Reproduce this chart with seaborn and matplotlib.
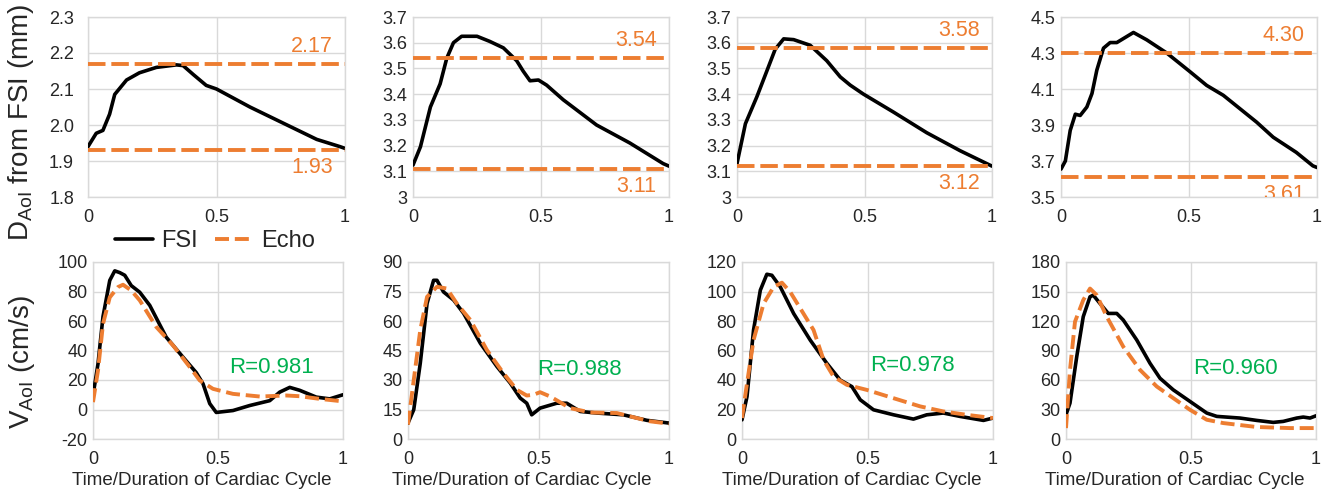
import matplotlib
matplotlib.use("Agg")
import matplotlib.pyplot as plt
import seaborn as sns
import pandas as pd

# ---------------- data ----------------
# Top row: aortic isthmus diameter from FSI and Echo (min / max)
t_d1 = [0, 0.032, 0.058, 0.084, 0.104, 0.15, 0.2, 0.266, 0.344, 0.37, 0.41, 0.46, 0.5, 0.63, 0.76, 0.89, 0.98, 1.0]
d1_fsi = [1.94, 1.977, 1.985, 2.03, 2.085, 2.125, 2.145, 2.16, 2.167, 2.165, 2.14, 2.11, 2.10, 2.05, 2.005, 1.96, 1.94, 1.935]
echo_d1 = [2.17, 1.93]

t_d2 = [0, 0.029, 0.068, 0.106, 0.132, 0.158, 0.19, 0.25, 0.30, 0.353, 0.405, 0.43, 0.457, 0.49, 0.522, 0.587, 0.717, 0.847, 0.977, 1.0]
d2_fsi = [3.124, 3.195, 3.35, 3.44, 3.54, 3.60, 3.625, 3.625, 3.605, 3.58, 3.53, 3.49, 3.452, 3.455, 3.435, 3.378, 3.28, 3.21, 3.13, 3.12]
echo_d2 = [3.54, 3.11]

t_d3 = [0, 0.033, 0.078, 0.117, 0.15, 0.183, 0.222, 0.287, 0.352, 0.405, 0.444, 0.496, 0.614, 0.744, 0.875, 1.0]
d3_fsi = [3.13, 3.285, 3.39, 3.49, 3.575, 3.615, 3.612, 3.59, 3.53, 3.467, 3.435, 3.40, 3.33, 3.25, 3.18, 3.12]
echo_d3 = [3.58, 3.12]

t_d4 = [0, 0.017, 0.036, 0.056, 0.075, 0.101, 0.121, 0.14, 0.166, 0.192, 0.218, 0.283, 0.335, 0.413, 0.504, 0.569, 0.634, 0.764, 0.829, 0.919, 0.984, 1.0]
d4_fsi = [3.655, 3.70, 3.87, 3.96, 3.953, 4.0, 4.075, 4.205, 4.327, 4.358, 4.358, 4.414, 4.373, 4.30, 4.196, 4.12, 4.065, 3.916, 3.832, 3.748, 3.673, 3.664]
echo_d4 = [4.30, 3.61]

# Bottom row: aortic isthmus velocity, FSI vs Echo
t_v1_fsi = [0, 0.02, 0.04, 0.067, 0.087, 0.107, 0.127, 0.153, 0.187, 0.227, 0.293, 0.36, 0.413, 0.44, 0.467, 0.493, 0.56, 0.627, 0.707, 0.747, 0.787, 0.827, 0.893, 0.947, 1.0]
v1_fsi = [9.5, 31, 63, 87.5, 94, 92.8, 91, 84, 79.5, 70.6, 49, 35.5, 25, 17.5, 4, -2, -0.7, 2.7, 6, 11.8, 15, 13, 8.4, 7.2, 10]
t_v1_echo = [0, 0.02, 0.04, 0.067, 0.1, 0.12, 0.153, 0.187, 0.253, 0.32, 0.387, 0.427, 0.48, 0.56, 0.667, 0.773, 0.827, 0.907, 1.0]
v1_echo = [5, 26.5, 58, 76, 83, 84.6, 80.7, 74, 56, 43.5, 28.8, 19.7, 14, 10.6, 8.8, 9.5, 9, 7.2, 5.5]

t_v2_fsi = [0, 0.022, 0.047, 0.073, 0.098, 0.111, 0.136, 0.175, 0.213, 0.277, 0.341, 0.392, 0.43, 0.455, 0.474, 0.506, 0.57, 0.608, 0.66, 0.723, 0.825, 0.915, 1.0]
v2_fsi = [8.1, 14.9, 38.5, 68.9, 80.7, 80.7, 74.8, 70.6, 63.9, 48.7, 36.8, 28.4, 20.8, 18.2, 12.3, 15.7, 18.2, 18.2, 14, 13.2, 12.3, 9.5, 8.1]
t_v2_echo = [0, 0.022, 0.047, 0.073, 0.111, 0.149, 0.187, 0.239, 0.302, 0.366, 0.417, 0.455, 0.481, 0.506, 0.545, 0.621, 0.698, 0.8, 0.851, 0.927, 1.0]
v2_echo = [7.3, 30, 55.4, 72.3, 77.4, 76.5, 68.9, 60.5, 45.3, 33.4, 25, 22.1, 22.5, 23.8, 21.6, 15.7, 13.5, 13.2, 11.5, 9, 7.8]

t_v3_fsi = [0, 0.02, 0.046, 0.073, 0.099, 0.119, 0.153, 0.206, 0.272, 0.338, 0.391, 0.438, 0.471, 0.524, 0.604, 0.683, 0.736, 0.802, 0.869, 0.962, 1.0]
v3_fsi = [13, 28.8, 73.9, 100.9, 111.7, 111, 103, 85, 67, 51.3, 40, 35.5, 26.6, 19.8, 16.4, 13.5, 16.4, 17.6, 15.3, 12.6, 14.2]
t_v3_echo = [0, 0.02, 0.046, 0.086, 0.126, 0.159, 0.192, 0.245, 0.285, 0.325, 0.365, 0.418, 0.497, 0.603, 0.71, 0.802, 0.895, 1.0]
v3_echo = [14.2, 37.8, 67.1, 91.8, 103.1, 106, 99.7, 85, 73.9, 53.6, 42.3, 36.7, 33.3, 27.7, 22.1, 18.7, 16.4, 14.2]

t_v4_fsi = [0, 0.016, 0.043, 0.069, 0.096, 0.109, 0.136, 0.169, 0.203, 0.229, 0.283, 0.336, 0.376, 0.429, 0.496, 0.563, 0.603, 0.696, 0.763, 0.829, 0.869, 0.923, 0.949, 0.976, 1.0]
v4_fsi = [24.7, 36.5, 83.8, 124.4, 144.6, 146.3, 137.8, 127.7, 127.7, 121, 100.7, 77, 61.8, 50, 38.2, 26.4, 23, 21.3, 18.9, 16.9, 17.9, 21.3, 22.3, 21.3, 23.6]
t_v4_echo = [0, 0.016, 0.036, 0.069, 0.096, 0.123, 0.163, 0.229, 0.296, 0.363, 0.429, 0.496, 0.563, 0.629, 0.763, 0.896, 1.0]
v4_echo = [11.1, 70.3, 119.3, 141.3, 153, 146.3, 124.4, 93.9, 70.3, 53.4, 41.6, 29.7, 19.6, 16.2, 12.2, 11.1, 11.1]

r_values = ["R=0.981", "R=0.988", "R=0.978", "R=0.960"]

# axis ticks / labels
x_ticks = [0, 0.5, 1]
x_ticklabels = ["0", "0.5", "1"]
top_yticks = [
    [1.8, 1.9, 2.0, 2.1, 2.2, 2.3],
    [3.0, 3.1, 3.2, 3.3, 3.4, 3.5, 3.6, 3.7],
    [3.0, 3.1, 3.2, 3.3, 3.4, 3.5, 3.6, 3.7],
    [3.5, 3.7, 3.9, 4.1, 4.3, 4.5],
]
top_yticklabels = [
    ["1.8", "1.9", "2.0", "2.1", "2.2", "2.3"],
    ["3", "3.1", "3.2", "3.3", "3.4", "3.5", "3.6", "3.7"],
    ["3", "3.1", "3.2", "3.3", "3.4", "3.5", "3.6", "3.7"],
    ["3.5", "3.7", "3.9", "4.1", "4.3", "4.5"],
]
bot_yticks = [
    [-20, 0, 20, 40, 60, 80, 100],
    [0, 15, 30, 45, 60, 75, 90],
    [0, 20, 40, 60, 80, 100, 120],
    [0, 30, 60, 90, 120, 150, 180],
]

top_t = [t_d1, t_d2, t_d3, t_d4]
top_fsi = [d1_fsi, d2_fsi, d3_fsi, d4_fsi]
top_echo = [echo_d1, echo_d2, echo_d3, echo_d4]
bot_tf = [t_v1_fsi, t_v2_fsi, t_v3_fsi, t_v4_fsi]
bot_f = [v1_fsi, v2_fsi, v3_fsi, v4_fsi]
bot_te = [t_v1_echo, t_v2_echo, t_v3_echo, t_v4_echo]
bot_e = [v1_echo, v2_echo, v3_echo, v4_echo]

# ---------------- style ----------------
sns.set_theme(style="white")
plt.rcParams["font.family"] = ["Liberation Sans", "DejaVu Sans"]
plt.rcParams["mathtext.fontset"] = "custom"
plt.rcParams["mathtext.rm"] = "Liberation Sans"
plt.rcParams["axes.unicode_minus"] = False

ORANGE = "#ED7D31"
GREEN = "#00B050"
GRID = "#D9D9D9"
TXT = "#262626"

W, H = 1329, 495
fig = plt.figure(figsize=(W / 100, H / 100), dpi=100)

top_x = [(88, 345), (413, 669), (737, 992), (1061, 1317)]
top_y = (17, 197)
bot_x = [(93, 343), (408, 669), (742, 993), (1066, 1316)]
bot_y = (262, 439)


def make_ax(xr, yr):
    l, r = xr
    t, b = yr
    return fig.add_axes([l / W, 1 - b / H, (r - l) / W, (b - t) / H])


def style_ax(ax, yticks, yticklabels=None, ypad=4):
    ax.set_xlim(0, 1)
    ax.set_ylim(yticks[0], yticks[-1])
    ax.set_xticks(x_ticks)
    ax.set_xticklabels(x_ticklabels)
    ax.set_yticks(yticks)
    if yticklabels is not None:
        ax.set_yticklabels(yticklabels)
    ax.grid(True, color=GRID, linewidth=1)
    for s in ax.spines.values():
        s.set_color(GRID)
        s.set_linewidth(1)
    ax.tick_params(axis="both", length=0, labelsize=13, labelcolor=TXT)
    ax.tick_params(axis="y", pad=ypad)
    ax.tick_params(axis="x", pad=9)
    ax.set_xlabel("")
    ax.set_ylabel("")


# top row
for i in range(4):
    ax = make_ax(top_x[i], top_y)
    df = pd.DataFrame({"t": top_t[i], "d": top_fsi[i]})
    sns.lineplot(data=df, x="t", y="d", ax=ax, color="black", linewidth=2.6, zorder=3)
    hi, lo = top_echo[i]
    for val in (hi, lo):
        dfe = pd.DataFrame({"t": [0, 1], "d": [val, val]})
        sns.lineplot(data=dfe, x="t", y="d", ax=ax, color=ORANGE, linewidth=2.8,
                     zorder=4).lines[-1].set_dashes((4.5, 1.5))
    ax.annotate(f"{hi:.2f}", xy=(1, hi), xycoords=("axes fraction", "data"),
                xytext=(-9, 5), textcoords="offset points", ha="right", va="bottom",
                color=ORANGE, fontsize=15.5, annotation_clip=False)
    ax.annotate(f"{lo:.2f}", xy=(1, lo), xycoords=("axes fraction", "data"),
                xytext=(-9, -5), textcoords="offset points", ha="right", va="top",
                color=ORANGE, fontsize=15.5, clip_on=True)
    style_ax(ax, top_yticks[i], top_yticklabels[i], ypad=10 if i == 0 else 4)

# bottom row
r_pos = [(0.544, 0.406), (0.494, 0.394), (0.51, 0.413), (0.509, 0.40)]
leg_handles = None
for i in range(4):
    ax = make_ax(bot_x[i], bot_y)
    dff = pd.DataFrame({"t": bot_tf[i], "v": bot_f[i]})
    dfe = pd.DataFrame({"t": bot_te[i], "v": bot_e[i]})
    sns.lineplot(data=dff, x="t", y="v", ax=ax, color="black", linewidth=2.6,
                 label="FSI", zorder=3)
    sns.lineplot(data=dfe, x="t", y="v", ax=ax, color=ORANGE, linewidth=2.8,
                 label="Echo", zorder=4)
    ax.lines[-1].set_dashes((3.6, 1.5))
    ax.text(r_pos[i][0], r_pos[i][1], r_values[i], transform=ax.transAxes,
            ha="left", va="center", color=GREEN, fontsize=16)
    if i == 0:
        leg_handles, leg_labels = ax.get_legend_handles_labels()
    ax.get_legend().remove()
    style_ax(ax, bot_yticks[i], ypad=4)
    ax.set_xlabel("Time/Duration of Cardiac Cycle", fontsize=13.5, color=TXT)
    ax.xaxis.set_label_coords(0.436, -0.235)
    ax.xaxis.label.set_va("center")

fig.legend(leg_handles, leg_labels, loc="center", bbox_to_anchor=(215 / W, 1 - 241 / H),
           ncol=2, frameon=False, fontsize=17, handlelength=1.6, handletextpad=0.35,
           columnspacing=0.7, labelcolor=TXT)

fig.text(21 / W, 1 - 122 / H, r"D$_\mathregular{AoI}$ from FSI (mm)", rotation=90,
         ha="center", va="center", fontsize=20, color=TXT)
fig.text(22 / W, 1 - 362 / H, r"V$_\mathregular{AoI}$ (cm/s)", rotation=90,
         ha="center", va="center", fontsize=20, color=TXT)

fig.savefig("out.png", dpi=100)
